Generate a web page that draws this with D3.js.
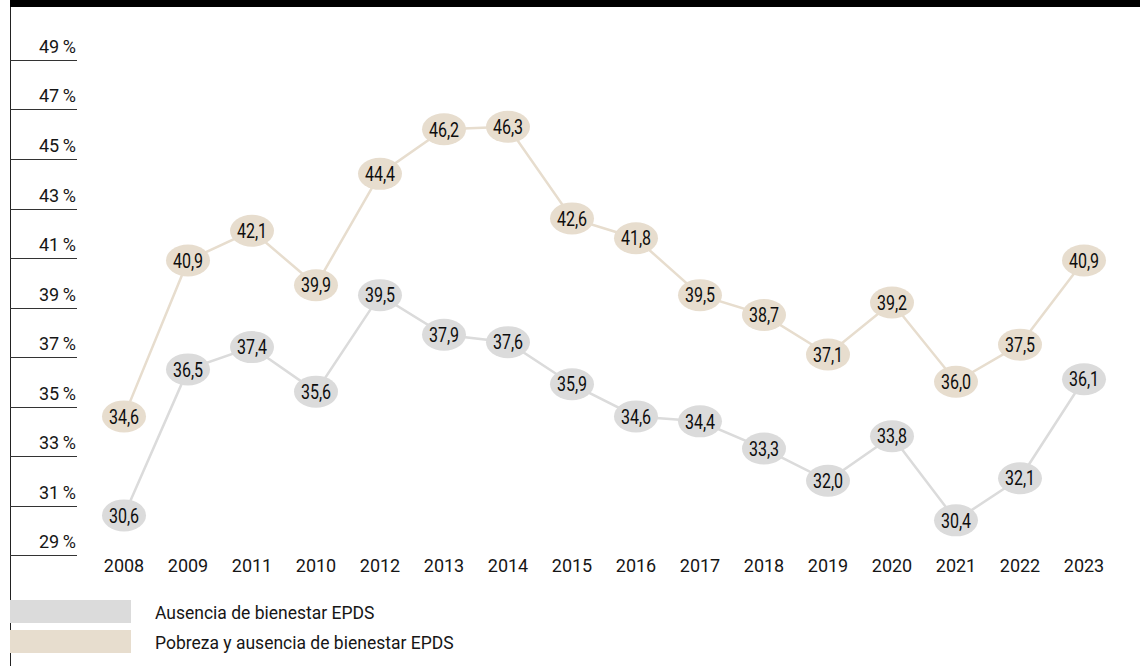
<!DOCTYPE html>
<html>
<head>
<meta charset="utf-8">
<script src="https://cdn.jsdelivr.net/npm/d3@7"></script>
<style>
  html, body { margin: 0; padding: 0; background: #fff; }
  svg { display: block; }
  .tick-label, .year-label, .legend-label { font-family: Roboto, "Noto Sans", sans-serif; fill: #161616; }
  .value-label { font-family: Roboto, "Noto Sans", sans-serif; fill: #0d0d0d; }
</style>
</head>
<body>
<svg id="chart" width="1140" height="666"></svg>
<script>
// Year order as published
const years = ["2008", "2009", "2011", "2010", "2012", "2013", "2014", "2015",
               "2016", "2017", "2018", "2019", "2020", "2021", "2022", "2023"];

// Ausencia de bienestar EPDS (%)
const ausencia = [30.6, 36.5, 37.4, 35.6, 39.5, 37.9, 37.6, 35.9,
                  34.6, 34.4, 33.3, 32.0, 33.8, 30.4, 32.1, 36.1];

// Pobreza y ausencia de bienestar EPDS (%)
const pobreza = [34.6, 40.9, 42.1, 39.9, 44.4, 46.2, 46.3, 42.6,
                 41.8, 39.5, 38.7, 37.1, 39.2, 36.0, 37.5, 40.9];

const yTicks = [29, 31, 33, 35, 37, 39, 41, 43, 45, 47, 49];

const seriesNames = ["Ausencia de bienestar EPDS", "Pobreza y ausencia de bienestar EPDS"];
const seriesColors = ["#dbdbdb", "#e7ddce"];

const svg = d3.select("#chart");
const W = 1140, H = 666;

const x = d3.scalePoint().domain(years).range([124, 1084]);
const y = d3.scaleLinear().domain([29, 49]).range([555, 60]);

// Top bar and left rule
svg.append("rect").attr("x", 10).attr("y", 0).attr("width", W - 10).attr("height", 7).attr("fill", "#000");
svg.append("line").attr("x1", 10.5).attr("x2", 10.5).attr("y1", 7).attr("y2", H)
  .attr("stroke", "#222").attr("stroke-width", 1);

// Y axis: short rules with labels sitting above them
const yAxis = svg.append("g").attr("class", "y-axis");
yTicks.forEach(t => {
  const yy = Math.round(y(t)) + 0.5;
  yAxis.append("line").attr("x1", 10).attr("x2", 77).attr("y1", yy).attr("y2", yy)
    .attr("stroke", "#333").attr("stroke-width", 1);
  yAxis.append("text").attr("class", "tick-label")
    .attr("x", 76).attr("y", yy - 8).attr("text-anchor", "end")
    .attr("font-size", 18)
    .text(t + "\u2009%");
});

// X axis labels
const xAxis = svg.append("g").attr("class", "x-axis");
years.forEach(yr => {
  xAxis.append("text").attr("class", "year-label")
    .attr("x", x(yr)).attr("y", 572).attr("text-anchor", "middle")
    .attr("font-size", 18).text(yr);
});

const fmt = v => d3.format(".1f")(v).replace(".", ",");

const line = d3.line().x((d, i) => x(years[i])).y(d => y(d));

function drawSeries(values, color) {
  const g = svg.append("g");
  g.append("path").datum(values).attr("d", line)
    .attr("fill", "none").attr("stroke", color).attr("stroke-width", 2.5);
  const pts = g.selectAll("g.pt").data(values).join("g").attr("class", "pt")
    .attr("transform", (d, i) => `translate(${x(years[i])},${y(d)})`);
  pts.append("ellipse").attr("rx", 22).attr("ry", 16).attr("fill", color);
  // condensed value label
  pts.append("text").attr("class", "value-label")
    .attr("text-anchor", "middle").attr("dy", "0.36em")
    .attr("transform", "scale(0.8,1)")
    .attr("font-size", 20).attr("font-weight", 400).text(d => fmt(d));
}

drawSeries(ausencia, seriesColors[0]);
drawSeries(pobreza, seriesColors[1]);

// Legend
const legend = svg.append("g");
seriesNames.forEach((name, i) => {
  const top = 600 + i * 30;
  legend.append("rect").attr("x", 10).attr("y", top).attr("width", 121).attr("height", 23)
    .attr("fill", seriesColors[i]);
  legend.append("text").attr("class", "legend-label")
    .attr("x", 155).attr("y", top + 19).attr("font-size", 17.5).text(name);
});
</script>
</body>
</html>
